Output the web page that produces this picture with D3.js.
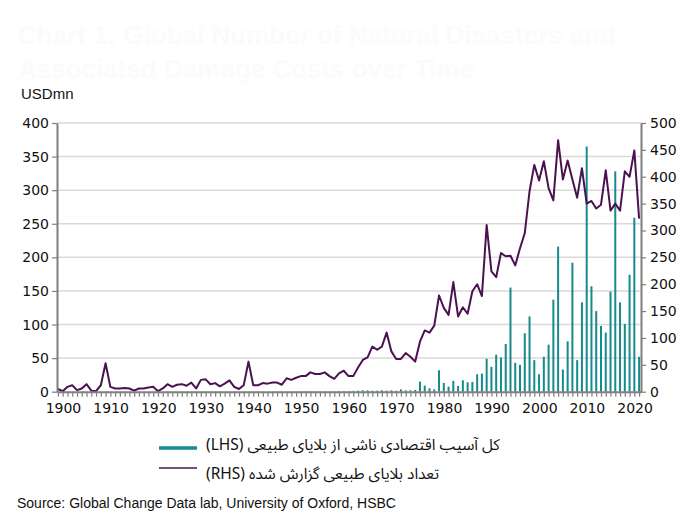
<!DOCTYPE html>
<html>
<head>
<meta charset="utf-8">
<script src="https://cdn.jsdelivr.net/npm/d3@7"></script>
<style>
  html, body { margin: 0; padding: 0; background: #ffffff; }
  svg { display: block; }
</style>
</head>
<body>
<svg id="chart" width="700" height="531"></svg>
<script>
// ---------------- DATA ----------------
const startYear = 1900;
const endYear = 2022;
const years = d3.range(startYear, endYear + 1);

// Number of reported natural disasters (RHS)
const disasterCounts = [
  5, 1, 9, 12, 3, 6, 14, 2, 1, 12,          // 1900-1909
  53, 9, 6, 6, 7, 6, 2, 6, 6, 8,            // 1910-1919
  9, 1, 6, 14, 9, 13, 14, 11, 17, 6,        // 1920-1929
  22, 23, 14, 16, 10, 15, 21, 9, 5, 12,     // 1930-1939
  56, 12, 12, 16, 15, 17, 17, 13, 25, 22,   // 1940-1949
  26, 29, 29, 36, 33, 33, 36, 29, 24, 34,   // 1950-1959
  39, 29, 29, 45, 59, 64, 84, 78, 84, 110,  // 1960-1969
  75, 61, 61, 72, 65, 56, 93, 114, 110, 123,        // 1970-1979
  179, 156, 143, 204, 140, 157, 145, 187, 200, 178, // 1980-1989
  310, 224, 213, 258, 252, 253, 235, 267, 295, 373, // 1990-1999
  422, 393, 429, 379, 356, 468, 395, 430, 395, 361, // 2000-2009
  416, 350, 355, 341, 348, 412, 337, 350, 337, 410, // 2010-2019
  400, 449, 322                                     // 2020-2022
];

// Total economic damage from natural disasters, USDmn (LHS)
const damageCosts = [
  0, 0, 0, 0, 0, 0, 0, 0, 0, 0,             // 1900-1909
  0, 0, 0, 0, 0, 0, 0, 0, 0, 0,             // 1910-1919
  0, 0, 0, 0, 0, 0, 0, 0, 0, 0,             // 1920-1929
  0, 0, 0, 0, 0, 0, 0, 0, 0, 0,             // 1930-1939
  0, 0, 0, 0, 0, 0, 0, 0, 0, 0,             // 1940-1949
  0.5, 0.3, 0.5, 0.8, 0.5, 0.6, 0.5, 0.4, 0.6, 0.8, // 1950-1959
  1, 0.8, 1.2, 1.5, 2, 2, 1.5, 1.5, 2, 1.5,  // 1960-1969
  2, 1.5, 3.5, 2, 2, 2.5, 15, 9, 5, 3.5,     // 1970-1979
  32, 13, 7.5, 16, 8.5, 17, 14, 14.5, 26, 27,       // 1980-1989
  49, 37, 55, 51, 71, 155, 43, 40, 87, 112,         // 1990-1999
  47, 26, 52, 70, 137, 216, 33, 75, 192, 47,        // 2000-2009
  133, 365, 157, 120, 98, 88, 149, 328, 133, 101,   // 2010-2019
  174, 259, 52                                      // 2020-2022
];

const leftTicks = [0, 50, 100, 150, 200, 250, 300, 350, 400];
const rightTicks = [0, 50, 100, 150, 200, 250, 300, 350, 400, 450, 500];
const xLabelYears = [1900, 1910, 1920, 1930, 1940, 1950, 1960, 1970, 1980, 1990, 2000, 2010, 2020];

const titleLines = ["Chart 1: Global Number of Natural Disasters and", "Associated Damage Costs over Time"];
const unitLabel = "USDmn";
const legendItems = [
  { label: "کل آسیب اقتصادی ناشی از بلایای طبیعی (LHS)", kind: "bar" },
  { label: "تعداد بلایای طبیعی گزارش شده (RHS)", kind: "line" }
];
const sourceText = "Source: Global Change Data lab, University of Oxford, HSBC";

// ---------------- STYLE ----------------
const barColor = "#178a8c";
const lineColor = "#4a1250";
const axisColor = "#7f7f7f";
const gridColor = "#d9d9d9";
const numFont = "'DejaVu Sans', Verdana, sans-serif";
const txtFont = "'Liberation Sans', Arial, sans-serif";
const faFont = "'Noto Sans Arabic', 'DejaVu Sans', sans-serif";

const plot = { left: 57, right: 641, top: 123, bottom: 391.7 };

const svg = d3.select("#chart");

// ---------------- SCALES ----------------
const x = d3.scaleLinear().domain([1899.8, 2022.4]).range([plot.left, plot.right]);
const yL = d3.scaleLinear().domain([0, 400]).range([plot.bottom, plot.top]);
const yR = d3.scaleLinear().domain([0, 500]).range([plot.bottom, plot.top]);

// ---------------- TITLE (faded) ----------------
svg.append("g").selectAll("text").data(titleLines).join("text")
  .attr("x", 18).attr("y", (d, i) => 44 + i * 34)
  .attr("font-family", txtFont).attr("font-weight", "bold").attr("font-size", 26)
  .attr("fill", "#fbfbfb")
  .text(d => d);

svg.append("text").attr("x", 21).attr("y", 99)
  .attr("font-family", txtFont).attr("font-size", 15).attr("fill", "#111")
  .text(unitLabel);

// ---------------- GRID ----------------
svg.append("g").selectAll("line").data(leftTicks.filter(d => d > 0)).join("line")
  .attr("x1", plot.left).attr("x2", plot.right)
  .attr("y1", d => yL(d)).attr("y2", d => yL(d))
  .attr("stroke", gridColor).attr("stroke-width", 1.5);

// ---------------- BARS ----------------
svg.append("g").selectAll("rect").data(years.map((y, i) => ({ year: y, v: damageCosts[i] })))
  .join("rect")
  .attr("x", d => x(d.year) - 1)
  .attr("width", 2)
  .attr("y", d => yL(d.v))
  .attr("height", d => plot.bottom - yL(d.v))
  .attr("fill", barColor);

// ---------------- LINE ----------------
const line = d3.line().x(d => x(d.year)).y(d => yR(d.v));
svg.append("path")
  .datum(years.map((y, i) => ({ year: y, v: disasterCounts[i] })))
  .attr("d", line)
  .attr("fill", "none")
  .attr("stroke", lineColor)
  .attr("stroke-width", 2)
  .attr("stroke-linejoin", "round");

// ---------------- AXES ----------------
function styleAxis(g) {
  g.select(".domain").attr("stroke", axisColor).attr("stroke-width", 2);
  g.selectAll(".tick line").attr("stroke", axisColor).attr("stroke-width", 1.2);
  g.selectAll(".tick text").attr("fill", "#111").attr("font-family", numFont).attr("font-size", 14);
}

const gL = svg.append("g").attr("transform", `translate(${plot.left},0)`)
  .call(d3.axisLeft(yL).tickValues(leftTicks).tickSize(5).tickSizeOuter(0).tickPadding(3));
styleAxis(gL);

const gR = svg.append("g").attr("transform", `translate(${plot.right},0)`)
  .call(d3.axisRight(yR).tickValues(rightTicks).tickSize(5).tickSizeOuter(0).tickPadding(4));
styleAxis(gR);

const gB = svg.append("g").attr("transform", `translate(0,${plot.bottom})`)
  .call(d3.axisBottom(x).tickValues(years).tickSize(5).tickSizeOuter(0)
    .tickFormat(d => xLabelYears.includes(d) ? String(d) : "").tickPadding(6));
styleAxis(gB);
gB.selectAll(".tick text").attr("dx", 5);

// ---------------- LEGEND ----------------
const lg = svg.append("g");
lg.append("line").attr("x1", 159).attr("x2", 197).attr("y1", 448).attr("y2", 448)
  .attr("stroke", barColor).attr("stroke-width", 3.5);
lg.append("line").attr("x1", 159).attr("x2", 197).attr("y1", 468).attr("y2", 468)
  .attr("stroke", lineColor).attr("stroke-width", 1.5);
lg.selectAll("text").data(legendItems).join("text")
  .attr("x", 206).attr("y", (d, i) => 450 + i * 29)
  .attr("direction", "rtl").style("direction", "rtl")
  .attr("text-anchor", "end")
  .attr("font-family", faFont).attr("font-size", 15.5).attr("fill", "#111")
  .text(d => d.label);

// ---------------- SOURCE ----------------
svg.append("text").attr("x", 17).attr("y", 508)
  .attr("font-family", txtFont).attr("font-size", 14).attr("fill", "#111")
  .text(sourceText);
</script>
</body>
</html>
